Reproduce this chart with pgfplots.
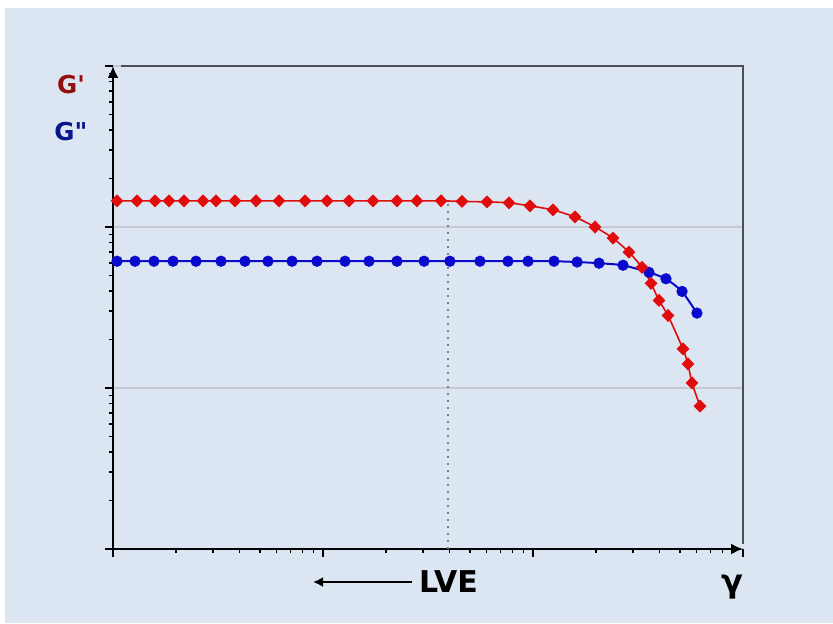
\documentclass[border=0pt]{standalone}
\usepackage{pgfplots}
\pgfplotsset{compat=1.18}
\usetikzlibrary{arrows.meta}
\usepackage{fontspec}
\setmainfont{DejaVu Sans}
\definecolor{bgblue}{RGB}{220,230,242}
\definecolor{framegray}{RGB}{75,80,86}
\definecolor{gridgray}{RGB}{198,202,208}
\definecolor{gred}{RGB}{225,12,12}
\definecolor{gblue}{RGB}{10,10,205}
\definecolor{labred}{RGB}{150,15,15}
\definecolor{labblue}{RGB}{10,20,140}
\begin{document}
\begin{tikzpicture}
\fill[white] (0,0) rectangle (416.5pt,311.5pt);
\fill[bgblue] (2.5pt,0) rectangle (416.5pt,307.5pt);
\begin{axis}[
  at={(56.5pt,37pt)}, anchor=south west,
  scale only axis, width=315pt, height=241.5pt,
  xmode=log, ymode=log,
  xmin=1, xmax=1000, ymin=1, ymax=1000,
  axis x line=bottom, axis y line=left,
  axis line style={black, line width=1pt, -{Latex[length=6pt,width=5.5pt]}},
  xticklabels={}, yticklabels={},
  tick align=outside,
  major tick length=4pt, minor tick length=2pt,
  tick style={black, line width=0.8pt},
  ymajorgrids,
  major grid style={gridgray, line width=1pt},
  clip=false,
]
\draw[framegray, line width=1.1pt] (rel axis cs:0.012,1) -- (rel axis cs:1,1) -- (rel axis cs:1,0.01);
% LVE limit
\addplot[gray, line width=1pt, dash pattern=on 1pt off 2.5pt] coordinates {(39.4,1) (39.4,145.4)};
% G''
\addplot[gblue, line width=1pt, mark=*, mark size=2.3pt, smooth, tension=0.3] coordinates {
(1.045,61.3) (1.273,61.3) (1.567,61.3) (1.931,61.3) (2.485,61.3) (3.268,61.3)
(4.25,61.3) (5.47,61.3) (7.12,61.3) (9.36,61.3) (12.73,61.3) (16.56,61.3)
(22.5,61.3) (30.3,61.3) (40.2,61.3) (55.9,61.3) (76.0,61.3) (94.7,61.3)
(125.9,61.3) (162.2,60.6) (206.2,59.6) (268.3,57.9) (356.6,52.3) (429.7,47.7)
(512.6,39.8) (603.6,29.2)};
% G'
\addplot[gred, line width=0.8pt, mark=diamond*, mark size=2.7pt, mark options={solid, xscale=1.3}, smooth, tension=0.3] coordinates {
(1.045,145.4) (1.301,145.4) (1.585,145.4) (1.848,145.4) (2.178,145.4) (2.683,145.4)
(3.094,145.4) (3.81,145.4) (4.80,145.4) (6.17,145.4) (8.21,145.4) (10.45,145.4)
(13.3,145.4) (17.3,145.4) (22.5,145.4) (28.0,145.4) (36.5,145.4) (45.9,144.2)
(60.4,143.2) (76.9,141.3) (96.8,135.3) (124.5,127.7) (158.5,115.5) (197.4,100)
(240.4,85.4) (286.4,69.8) (330.4,56.2) (364.8,44.7) (398.1,35.0) (439.5,28.2)
(517.9,17.5) (547,14.1) (571.5,10.75) (624,7.72)};
\end{axis}
\node[anchor=base, font=\bfseries\fontsize{12.3}{14}\selectfont, text=labred, inner sep=0] at (35.5pt,265pt) {G\textquotesingle};
\node[anchor=base, font=\bfseries\fontsize{12.3}{14}\selectfont, text=labblue, inner sep=0] at (35.5pt,241.5pt) {G\textquotedbl};
\node[anchor=base, font=\bfseries\fontsize{15}{17}\selectfont, inner sep=0] at (224.25pt,15.5pt) {LVE};
\node[anchor=base, font=\bfseries\fontsize{16}{18}\selectfont, inner sep=0] at (366pt,15.5pt) {γ};
\draw[line width=1pt, -{Latex[length=5pt,width=5pt]}] (206pt,20.5pt) -- (156.5pt,20.5pt);
\end{tikzpicture}
\end{document}
